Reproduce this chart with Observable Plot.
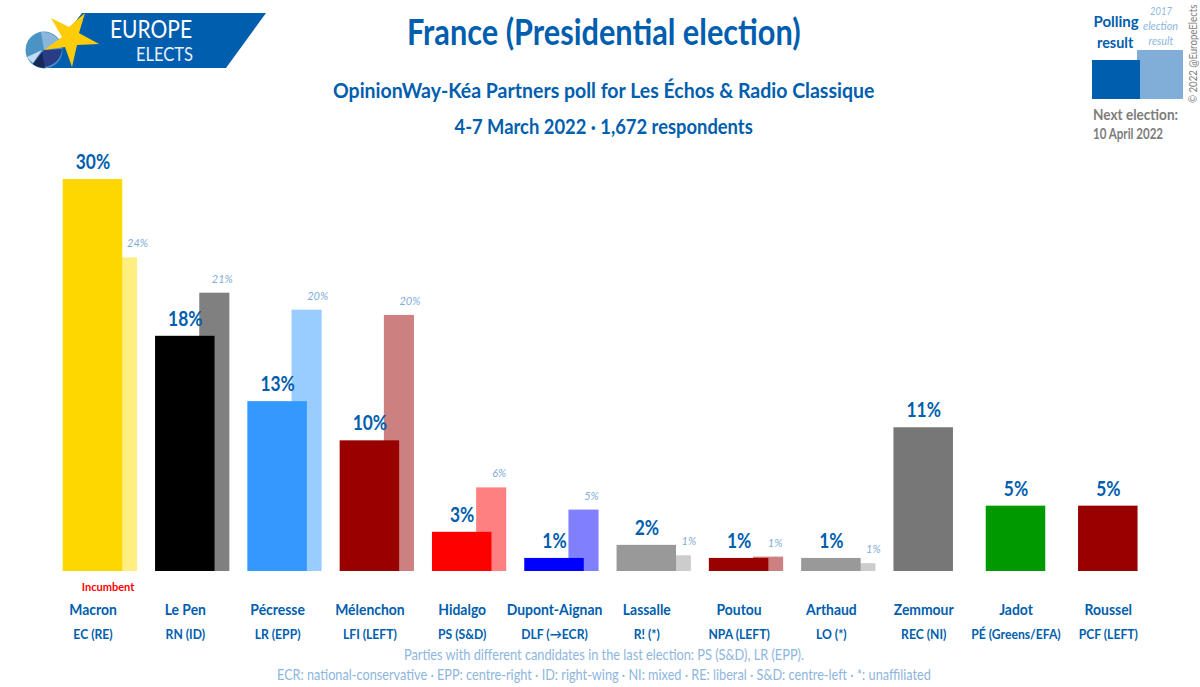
<!DOCTYPE html>
<html><head><meta charset="utf-8">
<script src="https://cdn.jsdelivr.net/npm/d3@7"></script>
<script src="https://cdn.jsdelivr.net/npm/@observablehq/plot@0.6"></script>
<style>
html,body{margin:0;background:#fff}
#page{position:relative;width:1200px;height:687px;overflow:hidden;font-family:Lato,"Noto Sans",sans-serif;color:#005eae}
#head{height:150px;text-align:center}
.abs{position:absolute;white-space:nowrap}
.ctr{left:0;width:1207px;text-align:center}
.fit{display:inline-block}
#chart{height:495px}
#chart svg{display:block;font-family:Lato,"Noto Sans",sans-serif}
.foot{color:#8db6de;font-size:15px}
</style></head><body>
<div id="page">
<div id="head">
<svg class="abs" style="left:24px;top:12px" width="244" height="58" viewBox="24 12 244 58">
<path d="M82 13H266L226 68H40Z" fill="#005eae"/>
<circle cx="44" cy="50" r="18.500" fill="#4a93c5"/>
<path d="M41 32A18.500 18.500 0 0 1 59 41L44 50Z" fill="#8ab5dc"/>
<path d="M27 57A18.500 18.500 0 0 0 33 63L42 50Z" fill="#c5dcf0"/>
<path d="M33 64A19 19 0 0 0 62 49L44 50Z" fill="#2a3c85"/>
<path d="M33 64L42 52 45 68Q38 68 33 64Z" fill="#1a2858"/>
<path d="M51 18L69 27 85 13 79 33 99 44 77 45 72 67 65 47 44 50 62 37Z" fill="#ffcc0a"/>
<text x="110" y="38" font-size="25" fill="#fff" textLength="82" lengthAdjust="spacingAndGlyphs" font-family="Lato">EUROPE</text>
<text x="136" y="61" font-size="18.500" fill="#e8effa" textLength="57" lengthAdjust="spacingAndGlyphs" font-family="Lato">ELECTS</text>
</svg>
<div class="abs ctr" style="top:9px;font-size:36px;font-weight:700"><span class="fit" data-w="394">France (Presidential election)</span></div>
<div class="abs ctr" style="top:77px;font-size:21px;font-weight:700"><span class="fit" data-w="541">OpinionWay-Kéa Partners poll for Les Échos &amp; Radio Classique</span></div>
<div class="abs ctr" style="top:113px;font-size:21px;font-weight:700"><span class="fit" data-w="298">4-7 March 2022 · 1,672 respondents</span></div>
<div class="abs" style="left:1092px;top:10px;width:46px;text-align:center;font-size:16px;font-weight:700;line-height:21px"><span class="fit" data-w="45">Polling</span><br><span class="fit" data-w="36">result</span></div>
<div class="abs" style="left:1141px;top:3px;width:40px;text-align:center;font-size:12px;font-style:italic;color:#8db6de;line-height:15px"><span class="fit" data-w="22">2017</span><br><span class="fit" data-w="35">election</span><br><span class="fit" data-w="25">result</span></div>
<div class="abs" style="left:1137px;top:50px;width:46px;height:49px;background:#80aed8"></div>
<div class="abs" style="left:1092px;top:60px;width:48px;height:39px;background:#005eae"></div>
<div class="abs" style="left:1093px;top:104px;font-size:16px;font-weight:700;color:#7d7d7d"><span class="fit" data-w="85" data-o="0 0">Next election:</span></div>
<div class="abs" style="left:1093px;top:125px;font-size:14.500px;font-weight:700;color:#7d7d7d"><span class="fit" data-w="70" data-o="0 0">10 April 2022</span></div>
<div class="abs" style="left:1186px;top:103px;font-size:12px;line-height:14px;color:#7d7d7d;transform-origin:0 0;transform:rotate(-90deg)"><span class="fit" data-w="98" data-o="0 0">© 2022 @EuropeElects</span></div>
</div>
<div id="chart"></div>
<div class="abs ctr foot" style="top:645px"><span class="fit" data-w="400">Parties with different candidates in the last election: PS (S&amp;D), LR (EPP).</span></div>
<div class="abs ctr foot" style="top:665px"><span class="fit" data-w="654">ECR: national-conservative · EPP: centre-right · ID: right-wing · NI: mixed · RE: liberal · S&amp;D: centre-left · *: unaffiliated</span></div>
</div>
<script>
const candidates = ["Macron","Le Pen","Pécresse","Mélenchon","Hidalgo","Dupont-Aignan","Lassalle","Poutou","Arthaud","Zemmour","Jadot","Roussel"];
const parties = ["EC (RE)","RN (ID)","LR (EPP)","LFI (LEFT)","PS (S&D)","DLF (→ECR)","R! (*)","NPA (LEFT)","LO (*)","REC (NI)","PÉ (Greens/EFA)","PCF (LEFT)"];
const poll = [30,18,13,10,3,1,2,1,1,11,5,5];
const pollLabels = ["30%","18%","13%","10%","3%","1%","2%","1%","1%","11%","5%","5%"];
const previous = [24,21.3,20,19.6,6.4,4.7,1.2,1.1,0.6,null,null,null];
const previousLabels = ["24%","21%","20%","20%","6%","5%","1%","1%","1%",null,null,null];
const mainColors = ["#ffd700","#000000","#3399ff","#990000","#ff0000","#0000ff","#999999","#990000","#999999","#777777","#009900","#990000"];
const lightColors = ["#ffee80","#808080","#99ccff","#cc8080","#ff8080","#8080ff","#cccccc","#cc8080","#cccccc",null,null,null];

const rows = candidates.map((c,i)=>({c,party:parties[i],v:poll[i],vl:pollLabels[i],p:previous[i],pl:previousLabels[i],col:mainColors[i],light:lightColors[i]}));
const prevRows = rows.filter(d=>d.p!=null);
const blue = "#005eae";
const prevLabelShift = {"Macron":44.5,"Le Pen":37,"Pécresse":40,"Mélenchon":40,"Hidalgo":37,"Dupont-Aignan":37,"Lassalle":42,"Poutou":36,"Arthaud":42};
const shifts = [...new Set(Object.values(prevLabelShift))];

const chart = Plot.plot({
  width:1200, height:495,
  marginTop:29, marginBottom:74, marginLeft:46.35, marginRight:46.05,
  x:{type:"band",domain:candidates,padding:0,round:false,label:null},
  y:{domain:[0,30],axis:null},
  style:{background:"transparent",overflow:"visible"},
  marks:[
    Plot.axisX({anchor:"bottom",tickSize:0,tickPadding:32,fontSize:16,fontWeight:700,fill:blue,color:blue,label:null}),
    Plot.barY(prevRows,{x:"c",y:"p",fill:d=>d.light,insetLeft:60.6,insetRight:1.6}),
    Plot.barY(rows,{x:"c",y:"v",fill:d=>d.col,insetLeft:16.4,insetRight:16.4}),
    Plot.text(rows,{x:"c",y:"v",text:"vl",dy:-17,fontSize:20,fontWeight:700,fill:blue}),
    ...shifts.map(s=>Plot.text(prevRows.filter(d=>prevLabelShift[d.c]===s),{x:"c",y:"p",text:"pl",dx:s,dy:-14,fontSize:11,fontStyle:"italic",fill:"#7fadd9"})),
    Plot.text(rows,{x:"c",y:0,text:"party",dy:63,fontSize:13.5,fontWeight:700,fill:blue}),
    Plot.text(rows.slice(0,1),{x:"c",y:0,text:()=>"Incumbent",dx:15,dy:16,fontSize:11,fontWeight:700,fill:"#ff0000"})
  ]
});
document.getElementById("chart").append(chart);
function fitAll(){
  document.querySelectorAll(".fit").forEach(s=>{
    s.style.transform="none";
    const w=s.offsetWidth;
    s.style.transformOrigin=s.dataset.o||"50% 50%";
    s.style.transform=`scaleX(${+s.dataset.w/w})`;
  });
  chart.querySelectorAll("text").forEach(t=>{
    t.removeAttribute("textLength");
    const size=parseFloat(getComputedStyle(t).fontSize);
    const k=size>=15?0.87:size>=12?0.9:1;
    if(k<1){
      t.setAttribute("lengthAdjust","spacingAndGlyphs");
      t.setAttribute("textLength",t.getComputedTextLength()*k);
    }
  });
}
fitAll();
if(document.fonts&&document.fonts.ready) document.fonts.ready.then(fitAll);
</script>
</body></html>
